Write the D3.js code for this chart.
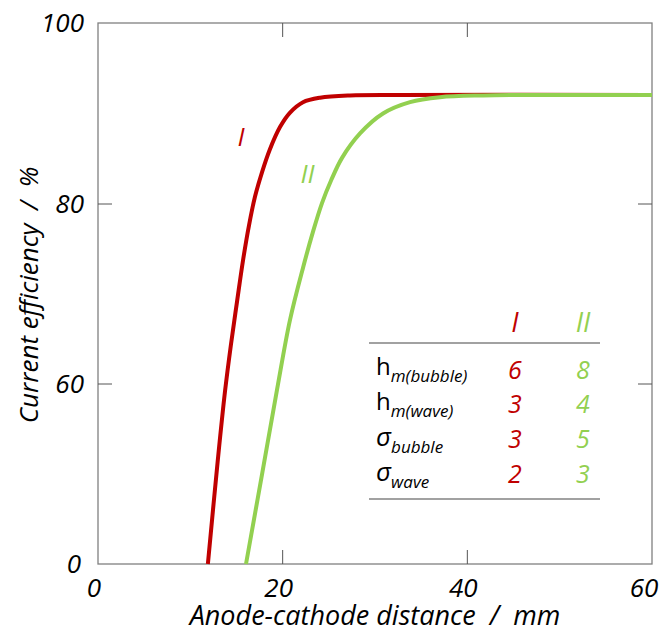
<!DOCTYPE html>
<html>
<head>
<meta charset="utf-8">
<script src="https://cdn.jsdelivr.net/npm/d3@7"></script>
<style>
  body { margin: 0; background: #fff; }
  svg text { font-family: "Open Sans", sans-serif; white-space: pre; }
</style>
</head>
<body>
<div id="chart"></div>
<script>
// Curve I (red) and curve II (green): [distance mm, efficiency %]
const curveI = [
  [11.9, 0], [13.0, 35.4], [13.75, 57.4], [14.4, 64.4], [15.05, 69.1], [15.7, 73.7],
  [16.35, 77.6], [17.0, 80.8], [17.76, 83.5], [18.6, 86.0], [19.71, 88.5],
  [20.8, 90.1], [22.2, 91.25], [24.05, 91.75], [27.3, 92.0], [32.7, 92.05], [60, 92.05]
];
const curveII = [
  [16.03, 0], [17.76, 29.8], [19.39, 58.1], [20.79, 67.1], [22.2, 72.9], [23.28, 76.9],
  [24.26, 80.1], [25.24, 82.6], [26.43, 85.1], [28.38, 87.8], [30.87, 90.0],
  [33.79, 91.25], [37.04, 91.8], [41.7, 92.0], [46.8, 92.05], [60, 92.05]
];

const xTicks = [0, 20, 40, 60];
const yTicks = [0, 60, 80, 100];

// parameter table
const paramSymbols = ['h', 'h', '\u03C3', '\u03C3'];
const paramSubs = ['m(bubble)', 'm(wave)', 'bubble', 'wave'];
const valuesI = [6, 3, 3, 2];
const valuesII = [8, 4, 5, 3];

const RED = '#c00000';
const GREEN = '#92d050';
const AXIS = '#808080';
const INK = '#000';

const width = 662, height = 630;
const svg = d3.select('#chart').append('svg')
  .attr('width', width)
  .attr('height', height);

const plot = { left: 98, right: 652, top: 23, bottom: 564 };

const x = d3.scaleLinear().domain([0, 60]).range([plot.left, plot.right]);
// broken y axis: 0-60 compressed, 60-100 expanded
const y = d3.scaleLinear().domain([0, 60, 80, 100]).range([plot.bottom, 384, 204, plot.top]);

// frame
svg.append('rect')
  .attr('x', plot.left).attr('y', plot.top)
  .attr('width', plot.right - plot.left).attr('height', plot.bottom - plot.top)
  .attr('fill', 'none').attr('stroke', AXIS).attr('stroke-width', 1.3);

// inward ticks on all four sides
const tl = 14;
const innerX = xTicks.slice(1, -1), innerY = yTicks.slice(1, -1);
const tickG = svg.append('g').attr('stroke', '#555').attr('stroke-width', 1);
innerX.forEach(v => {
  tickG.append('line').attr('x1', x(v)).attr('x2', x(v)).attr('y1', plot.bottom).attr('y2', plot.bottom - tl);
  tickG.append('line').attr('x1', x(v)).attr('x2', x(v)).attr('y1', plot.top).attr('y2', plot.top + tl);
});
innerY.forEach(v => {
  tickG.append('line').attr('x1', plot.left).attr('x2', plot.left + tl).attr('y1', y(v)).attr('y2', y(v));
  tickG.append('line').attr('x1', plot.right).attr('x2', plot.right - tl).attr('y1', y(v)).attr('y2', y(v));
});

// tick labels
svg.append('g').selectAll('text')
  .data(xTicks).join('text')
  .attr('x', d => x(d) - (d === 60 ? 8 : 4))
  .attr('y', 597)
  .attr('text-anchor', 'middle')
  .attr('font-size', 26).attr('font-style', 'italic')
  .attr('fill', INK)
  .text(d => d);

svg.append('g').selectAll('text')
  .data(yTicks).join('text')
  .attr('x', d => d === 0 ? 81 : 84)
  .attr('y', d => y(d))
  .attr('dy', '0.35em')
  .attr('text-anchor', 'end')
  .attr('font-size', 26).attr('font-style', 'italic')
  .attr('fill', INK)
  .text(d => d);

// axis titles
svg.append('text')
  .attr('x', (plot.left + plot.right) / 2).attr('y', 625)
  .attr('text-anchor', 'middle')
  .attr('font-size', 27).attr('font-style', 'italic').attr('fill', INK)
  .text('Anode-cathode distance  /  mm');

svg.append('text')
  .attr('transform', 'translate(38, 295) rotate(-90)')
  .attr('text-anchor', 'middle')
  .attr('font-size', 26).attr('font-style', 'italic').attr('fill', INK)
  .text('Current efficiency  /  %');

// curves
const line = d3.line()
  .x(d => x(d[0]))
  .y(d => y(d[1]))
  .curve(d3.curveCatmullRom.alpha(0.5));

svg.append('path').datum(curveI)
  .attr('d', line)
  .attr('fill', 'none').attr('stroke', RED).attr('stroke-width', 4);

svg.append('path').datum(curveII)
  .attr('d', line)
  .attr('fill', 'none').attr('stroke', GREEN).attr('stroke-width', 4);

// curve labels
svg.append('text')
  .attr('x', x(15.5)).attr('y', y(87.4)).attr('dy', '0.35em')
  .attr('text-anchor', 'middle')
  .attr('font-size', 26).attr('font-style', 'italic').attr('fill', RED)
  .text('I');
svg.append('text')
  .attr('x', x(22.7)).attr('y', y(83.3)).attr('dy', '0.35em')
  .attr('text-anchor', 'middle')
  .attr('font-size', 26).attr('font-style', 'italic').attr('fill', GREEN)
  .text('II');

// parameter table
const table = svg.append('g');
const colI = 515, colII = 583, labelX = 376;
const labelBase = [375, 410, 446, 481];
const valueBase = [379, 413, 448, 483];

table.append('text').attr('x', colI).attr('y', 332)
  .attr('text-anchor', 'middle').attr('font-size', 27).attr('font-style', 'italic')
  .attr('fill', RED).text('I');
table.append('text').attr('x', colII).attr('y', 332)
  .attr('text-anchor', 'middle').attr('font-size', 27).attr('font-style', 'italic')
  .attr('fill', GREEN).text('II');

table.append('line').attr('x1', 369).attr('x2', 600).attr('y1', 343).attr('y2', 343)
  .attr('stroke', '#444').attr('stroke-width', 1.2);
table.append('line').attr('x1', 369).attr('x2', 600).attr('y1', 499).attr('y2', 499)
  .attr('stroke', '#444').attr('stroke-width', 1.2);

paramSymbols.forEach((sym, i) => {
  const t = table.append('text')
    .attr('x', labelX).attr('y', labelBase[i])
    .attr('fill', INK);
  t.append('tspan')
    .attr('font-size', sym === 'h' ? 24 : 26)
    .attr('font-style', sym === 'h' ? 'normal' : 'italic')
    .text(sym);
  t.append('tspan')
    .attr('font-size', 17).attr('font-style', 'italic')
    .attr('dy', 7)
    .text(paramSubs[i]);
});

table.append('g').selectAll('text')
  .data(valuesI).join('text')
  .attr('x', colI).attr('y', (d, i) => valueBase[i])
  .attr('text-anchor', 'middle').attr('font-size', 25).attr('font-style', 'italic')
  .attr('fill', RED).text(d => d);

table.append('g').selectAll('text')
  .data(valuesII).join('text')
  .attr('x', colII).attr('y', (d, i) => valueBase[i])
  .attr('text-anchor', 'middle').attr('font-size', 25).attr('font-style', 'italic')
  .attr('fill', GREEN).text(d => d);
</script>
</body>
</html>
